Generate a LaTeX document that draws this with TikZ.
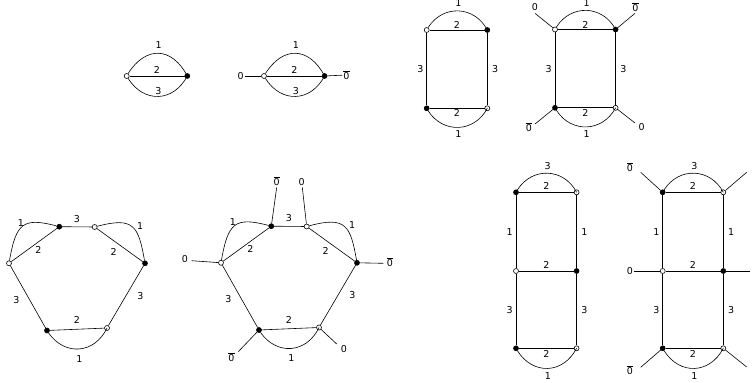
\documentclass[tikz,border=0pt]{standalone}
\usepackage{fontspec}
\setmainfont{DejaVu Sans}
\usepackage{tikz}
\tikzset{
  wv/.style={circle,draw,fill=white,inner sep=0pt,minimum size=5pt},
  bv/.style={circle,draw,fill=black,inner sep=0pt,minimum size=5pt},
  lab/.style={font=\fontsize{9.5}{11}\selectfont,inner sep=1pt},
}
\newcommand{\zerobar}{$\overline{\mbox{0}}$}

\begin{document}
\begin{tikzpicture}[x=1pt,y=1pt,line width=0.6pt]
\useasboundingbox (0,0) rectangle (756,383);

% sunset graphs
\foreach \g/\sx in {sun1/126.7,sun2/264} {
\begin{scope}[shift={(\sx,307)},name prefix=\g-]
  \node[wv] (a) at (0,0) {};
  \node[bv] (b) at (60.6,0) {};
  \draw (a) to[bend left=60,looseness=1.43] node[lab,above=3pt] {1} (b);
  \draw (a) -- node[lab,above=1pt] {2} (b);
  \draw (a) to[bend right=60,looseness=1.28] node[lab,above=1pt] {3} (b);
\end{scope}}
\node[lab] (sun2-in) at (240.7,307) {0};
\node[lab] (sun2-out) at (346.5,308) {\zerobar};
\draw (sun2-a) -- (sun2-in);
\draw (sun2-b) -- (sun2-out);

% square graphs
\foreach \g/\sx/\sy in {box1/426.7/353,box2/555/353.5} {
\begin{scope}[shift={(\sx,\sy)},name prefix=\g-]
  \node[wv] (tl) at (0,0) {};
  \node[bv] (tr) at (60.6,0) {};
  \node[bv] (bl) at (0,-78.3) {};
  \node[wv] (br) at (60.6,-78.3) {};
  \draw (tl) to[bend left=60,looseness=1.19] node[lab,above=3pt] {1} (tr);
  \draw (tl) -- node[lab,above] {2} (tr);
  \draw (bl) -- node[lab,below] {2} (br);
  \draw (bl) to[bend right=60,looseness=1.19] node[lab,below=2pt] {1} (br);
  \draw (tl) -- node[lab,left=2pt] {3} (bl);
  \draw (tr) -- node[lab,right=3.5pt] {3} (br);
\end{scope}}
\foreach \v/\x/\y in {tl/535/369.7,tr/635/369.7,bl/535/259,br/635/260} {
  \coordinate (box2-\v-end) at (\x,\y);
  \draw (box2-\v) -- (box2-\v-end);}
\node[lab] (box2-tl-lab) at (535,376.3) {0};
\node[lab] (box2-tr-lab) at (635.5,376.3) {\zerobar};
\node[lab] (box2-bl-lab) at (528.8,256.3) {\zerobar};
\node[lab] (box2-br-lab) at (641.7,256) {0};

% hexagon graphs
\foreach \g/\sx/\sy in {hex1/0/0,hex2/212/0.5} {
\begin{scope}[shift={(\sx,\sy)},name prefix=\g-]
  \node[wv] (l) at (9,119.7) {};
  \node[bv] (tl) at (59.3,156.3) {};
  \node[wv] (tr) at (94.7,156) {};
  \node[bv] (r) at (145,119.7) {};
  \node[bv] (bl) at (47,52.5) {};
  \node[wv] (br) at (107,55) {};
  \draw (l) to[out=80,in=165,looseness=1.6] node[lab,pos=0.45,above] {1} (tl);
  \draw (tr) to[out=15,in=100,looseness=1.6] node[lab,pos=0.6,above right] {1} (r);
  \draw (l) -- node[lab,below right] {2} (tl);
  \draw (tr) -- node[lab,below left=2pt] {2} (r);
  \draw (tl) -- node[lab,above=3pt] {3} (tr);
  \draw (l) -- node[lab,pos=0.55,left=9pt] {3} (bl);
  \draw (r) -- node[lab,right=10pt] {3} (br);
  \draw (bl) -- node[lab,above=4pt] {2} (br);
  \draw (bl) to[bend right=60,looseness=1.25] node[lab,below=5pt] {1} (br);
\end{scope}}
\foreach \v/\x/\y in {l/191.7/122.3,tl/276.7/195.7,tr/302.3/195.7,r/383.3/119.7,bl/238.3/31.3,br/336.7/39} {
  \coordinate (hex2-\v-end) at (\x,\y);
  \draw (hex2-\v) -- (hex2-\v-end);}
\node[lab] (hex2-l-lab) at (185,123.7) {0};
\node[lab] (hex2-tl-lab) at (276.7,201.7) {\zerobar};
\node[lab] (hex2-tr-lab) at (301.7,201.3) {0};
\node[lab] (hex2-r-lab) at (390,120.7) {\zerobar};
\node[lab] (hex2-bl-lab) at (231.5,25.5) {\zerobar};
\node[lab] (hex2-br-lab) at (344,33.7) {0};

% ladder graphs
\foreach \g/\sx in {lad1/516,lad2/662.7} {
\begin{scope}[shift={(\sx,190.7)},name prefix=\g-]
  \node[bv] (tl) at (0,0) {};
  \node[wv] (tr) at (60.6,0) {};
  \node[wv] (ml) at (0,-78.7) {};
  \node[bv] (mr) at (60.6,-78.7) {};
  \node[bv] (bl) at (0,-156) {};
  \node[wv] (br) at (60.6,-156) {};
  \draw (tl) to[bend left=60,looseness=1.19] node[lab,above=2pt] {3} (tr);
  \draw (tl) -- node[lab,above=1pt] {2} (tr);
  \draw (ml) -- node[lab,above=1pt] {2} (mr);
  \draw (bl) -- node[lab,below=1pt] {2} (br);
  \draw (bl) to[bend right=60,looseness=1.26] node[lab,below=3pt] {1} (br);
  \draw (tl) -- node[lab,left=2pt] {1} (ml);
  \draw (tr) -- node[lab,right=3.5pt] {1} (mr);
  \draw (ml) -- node[lab,left=2pt] {3} (bl);
  \draw (mr) -- node[lab,right=3.5pt] {3} (br);
\end{scope}}
\foreach \v/\x/\y in {tl/640.7/210.7,tr/746.7/210.7,mr/750/112,bl/640.7/15.7,br/746.7/16} {
  \coordinate (lad2-\v-end) at (\x,\y);
  \draw (lad2-\v) -- (lad2-\v-end);}
\node[lab] (lad2-tl-lab) at (630,216) {\zerobar};
\node[lab] (lad2-tr-lab) at (759,215.5) {0};
\node[lab] (lad2-ml-lab) at (630,112) {0};
\node[lab] (lad2-bl-lab) at (630,13.3) {\zerobar};
\node[lab] (lad2-br-lab) at (759,6) {0};
\draw (lad2-ml) -- (lad2-ml-lab);
\end{tikzpicture}
\end{document}
